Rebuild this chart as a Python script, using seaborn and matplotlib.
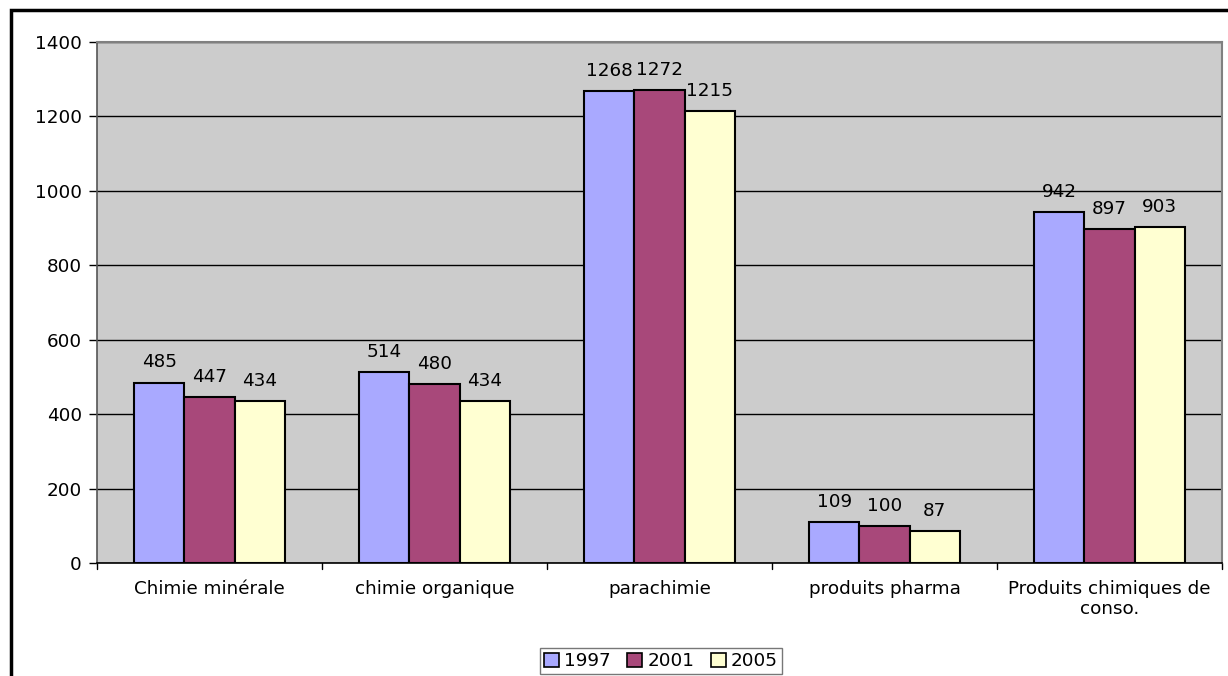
import matplotlib
matplotlib.use("Agg")
import matplotlib.pyplot as plt
import matplotlib.patches as mpatches
import seaborn as sns
import pandas as pd

categories = ["Chimie minérale", "chimie organique", "parachimie",
              "produits pharma", "Produits chimiques de\nconso."]
years = ["1997", "2001", "2005"]
values_1997 = [485, 514, 1268, 109, 942]
values_2001 = [447, 480, 1272, 100, 897]
values_2005 = [434, 434, 1215, 87, 903]
y_ticks = [0, 200, 400, 600, 800, 1000, 1200, 1400]

colors = ["#A9A9FF", "#A8487A", "#FFFFD2"]

df = pd.DataFrame({
    "categorie": categories * 3,
    "annee": [years[0]] * 5 + [years[1]] * 5 + [years[2]] * 5,
    "valeur": values_1997 + values_2001 + values_2005,
})

sns.set_style("white")
plt.rcParams["font.family"] = ["DejaVu Sans"]
plt.rcParams["text.color"] = "black"
plt.rcParams["xtick.color"] = "black"
plt.rcParams["ytick.color"] = "black"

FS = 13.2

fig = plt.figure(figsize=(12.28, 6.76), dpi=100)
ax = fig.add_axes([97 / 1228, 1 - 563 / 676, 1125 / 1228, 521 / 676])
ax.set_facecolor("#CCCCCC")

sns.barplot(data=df, x="categorie", y="valeur", hue="annee",
            palette=colors, saturation=1, width=0.667, edgecolor="black",
            linewidth=1.5, ax=ax, legend=True, zorder=3)

ax.set_ylim(0, 1400)
ax.set_xlim(-0.5, 4.5)
ax.set_yticks(y_ticks)
ax.set_yticklabels([str(t) for t in y_ticks], fontsize=FS)
ax.yaxis.grid(True, color="black", linewidth=1)
ax.set_axisbelow(True)
ax.set_xlabel("")
ax.set_ylabel("")

# category labels sit between boundary tick marks
ax.set_xticks(range(len(categories)))
ax.set_xticklabels(categories, fontsize=FS, linespacing=1.2)
ax.tick_params(axis="x", length=0, pad=12)
for b in [i - 0.5 for i in range(len(categories) + 1)]:
    ax.plot([b, b], [0, -0.012], transform=ax.get_xaxis_transform(),
            color="black", linewidth=1, clip_on=False)
ax.tick_params(axis="y", length=6, width=1, color="black", direction="out",
               left=True, pad=5)

for side in ["top", "right"]:
    ax.spines[side].set_color("#808080")
    ax.spines[side].set_linewidth(1.5)
ax.spines["left"].set_color("#555555")
ax.spines["left"].set_linewidth(1.2)
ax.spines["bottom"].set_color("black")
ax.spines["bottom"].set_linewidth(1.2)

for container in ax.containers:
    ax.bar_label(container, fmt="%d", fontsize=FS, padding=8, color="black")

handles = [mpatches.Patch(facecolor=c, edgecolor="black", linewidth=1.2)
           for c in colors]
ax.legend(handles, years, loc="center", bbox_to_anchor=(661 / 1228, 1 - 661 / 676),
          bbox_transform=fig.transFigure, ncol=3, fontsize=FS, frameon=True,
          fancybox=False, edgecolor="#555555", handlelength=0.8,
          handleheight=0.8, handletextpad=0.3, columnspacing=0.9,
          borderpad=0.2, borderaxespad=0)

fig.patches.append(mpatches.Rectangle((11 / 1228, -0.05), 1.1, 1 - 10 / 676 + 0.05,
                                      transform=fig.transFigure, fill=False,
                                      edgecolor="black", linewidth=2.5))

fig.savefig("out.png", dpi=100)
